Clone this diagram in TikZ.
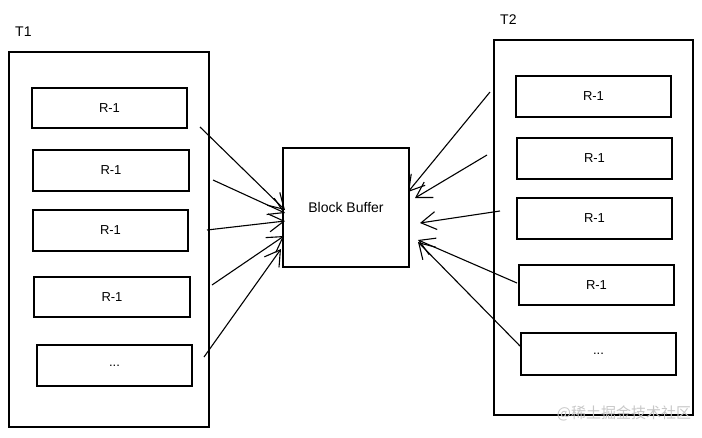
\documentclass[tikz,border=0pt]{standalone}
\usepackage{fontspec}
\setmainfont{Liberation Sans}
\newfontfamily\cjk{Noto Sans CJK SC}
\usetikzlibrary{arrows.meta}
\begin{document}
\begin{tikzpicture}[x=1pt,y=-1pt,
  cont/.style={draw, line width=1.3pt, minimum width=200pt, minimum height=375pt, inner sep=0pt},
  rbox/.style={draw, line width=1.2pt, minimum width=155pt, minimum height=40pt, inner sep=0pt, font=\fontsize{13}{15}\selectfont},
  bbox/.style={draw, line width=1.2pt, minimum width=126pt, minimum height=119pt, inner sep=0pt, font=\fontsize{14}{16}\selectfont},
  lbl/.style={font=\fontsize{14}{16}\selectfont, inner sep=0pt},
  arr/.style={line width=1.1pt, -{Straight Barb[length=15pt,width=18pt,line width=1.1pt]}},
  wm/.style={font=\cjk\fontsize{15}{17}\selectfont, text=black!22, inner sep=0pt}]
\useasboundingbox (0,0) rectangle (702,437);
% containers
\node[cont] (t1) at (109,239.5) {};
\node[cont, minimum width=199pt] (t2) at (593.5,227.5) {};
\node[lbl, anchor=west] (t1l) at (15,32) {T1};
\node[lbl, anchor=west] (t2l) at (500,20) {T2};
% left boxes
\node[rbox] (l1) at (109.5,108) {R-1};
\node[rbox, minimum width=156pt, minimum height=41pt] (l2) at (111,170.5) {R-1};
\node[rbox, minimum height=41pt] (l3) at (110.5,230.5) {R-1};
\node[rbox, minimum width=156pt] (l4) at (112,297) {R-1};
\node[rbox, minimum height=41pt] (l5) at (114.5,365.5) {...};
% right boxes
\node[rbox, minimum height=41pt] (r1) at (593.5,96.5) {R-1};
\node[rbox, minimum height=41pt] (r2) at (594.5,158.5) {R-1};
\node[rbox, minimum height=41pt] (r3) at (594.5,218.5) {R-1};
\node[rbox] (r4) at (596.5,285) {R-1};
\node[rbox, minimum height=42pt] (r5) at (598.5,354) {...};
% block buffer
\node[bbox] (bb) at (346,207.5) {Block Buffer};
% arrow coordinates
\coordinate (a1) at (200,127);
\coordinate (a2) at (213,180);
\coordinate (a3) at (207,230);
\coordinate (a4) at (212,285);
\coordinate (a5) at (204,357);
\coordinate (e1) at (285,210);
\coordinate (e2) at (285,213);
\coordinate (e3) at (285,221);
\coordinate (e4) at (284,236);
\coordinate (e5) at (281,249);
\coordinate (b1) at (490,92);
\coordinate (b2) at (487,155);
\coordinate (b3) at (500,211);
\coordinate (b4) at (517,283);
\coordinate (b5) at (520,346);
\coordinate (f1) at (408,192);
\coordinate (f2) at (415,198);
\coordinate (f3) at (420,223);
\coordinate (f4) at (418,240);
\coordinate (f5) at (418,242);
\foreach \i in {1,...,5}{
  \draw[arr] (a\i) -- (e\i);
  \draw[arr] (b\i) -- (f\i);
}
\node[wm] (wm) at (624,413) {@稀土掘金技术社区};
\end{tikzpicture}
\end{document}
